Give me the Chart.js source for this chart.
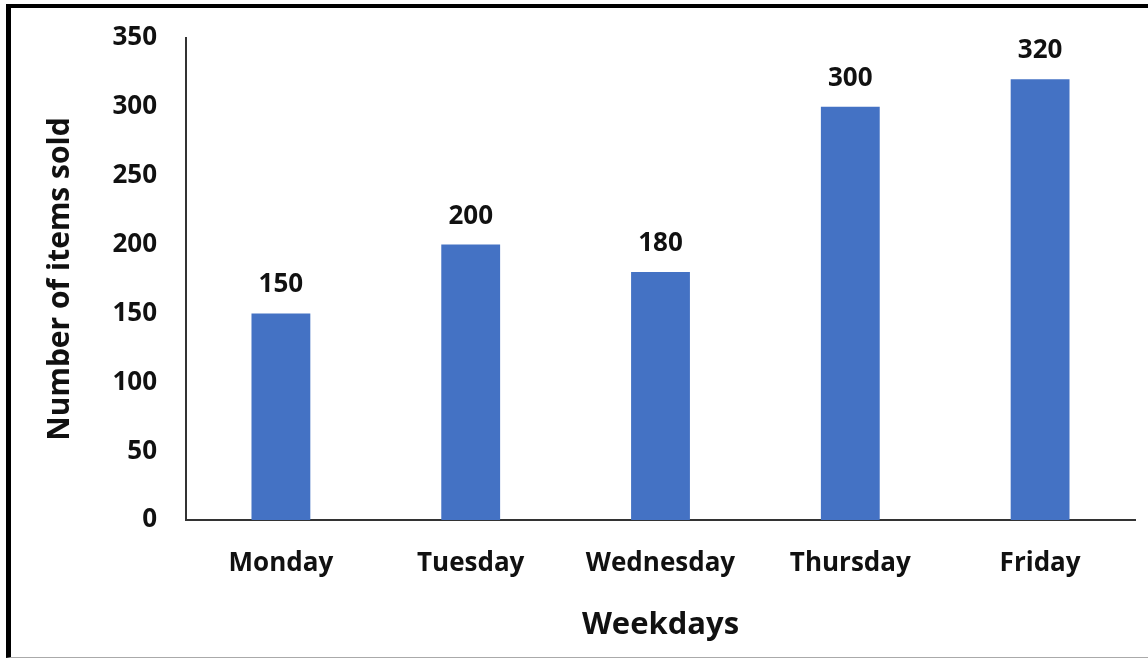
<!DOCTYPE html>
<html>
<head>
<meta charset="utf-8">
<script src="https://cdn.jsdelivr.net/npm/chart.js@4.4.1/dist/chart.umd.min.js"></script>
<style>
  html, body { margin: 0; padding: 0; background: #fff; }
  #wrap { position: relative; width: 1148px; height: 660px; }
  #frame {
    position: absolute; left: 6px; top: 4px; width: 1142px; height: 654px;
    box-sizing: border-box;
    border-left: 5px solid #000; border-top: 4px solid #000; border-bottom: 1px solid #aaa;
    pointer-events: none;
  }
</style>
</head>
<body>
<div id="wrap">
  <canvas id="chart"></canvas>
  <div id="frame"></div>
</div>
<script>
const days = ["Monday", "Tuesday", "Wednesday", "Thursday", "Friday"];
const itemsSold = [150, 200, 180, 300, 320];
const yTicks = [0, 50, 100, 150, 200, 250, 300, 350];

const textColor = "#111";
const barColor = "#4472C4";
const font = { family: "'Open Sans', sans-serif", weight: "bold", size: 26 };

// value labels above each bar
const barValues = {
  id: "barValues",
  afterDatasetsDraw(chart) {
    const { ctx } = chart;
    const meta = chart.getDatasetMeta(0);
    ctx.save();
    ctx.font = `bold ${font.size}px ${font.family}`;
    ctx.fillStyle = textColor;
    ctx.textAlign = "center";
    ctx.textBaseline = "alphabetic";
    meta.data.forEach((bar, i) => {
      ctx.fillText(itemsSold[i], bar.x, bar.y - 21);
    });
    ctx.restore();
  },
};

new Chart(document.getElementById("chart"), {
  type: "bar",
  plugins: [barValues],
  data: {
    labels: days,
    datasets: [{
      data: itemsSold,
      backgroundColor: barColor,
      barPercentage: 0.31,
      categoryPercentage: 1,
    }],
  },
  options: {
    responsive: true,
    maintainAspectRatio: false,
    animation: false,
    layout: { padding: { top: 38, right: 13, left: 0, bottom: 0 } },
    plugins: { legend: { display: false }, tooltip: { enabled: false } },
    scales: {
      x: {
        grid: { display: false, drawTicks: false },
        border: { display: true, color: "#333", width: 2 },
        ticks: { color: textColor, font: font, padding: 28, maxRotation: 0 },
        title: {
          display: true, text: "Weekdays", color: textColor,
          font: { family: font.family, weight: "bold", size: 31 },
          padding: { top: 0, bottom: 16 },
        },
        afterFit(scale) { scale.height = 140; },
      },
      y: {
        min: 0,
        max: 350,
        grid: { display: false, drawTicks: false },
        border: { display: true, color: "#333", width: 2 },
        afterBuildTicks(scale) { scale.ticks = yTicks.map(v => ({ value: v })); },
        // small lineHeight keeps the label overhang from pushing the plot down
        ticks: { color: textColor, font: { ...font, lineHeight: 0.6 }, padding: 29 },
        title: {
          display: true, text: "Number of items sold", color: textColor,
          font: { family: font.family, weight: "bold", size: 30 },
          padding: { top: 42, bottom: 0 },
        },
        afterFit(scale) { scale.width = 186; },
      },
    },
  },
});
</script>
</body>
</html>
